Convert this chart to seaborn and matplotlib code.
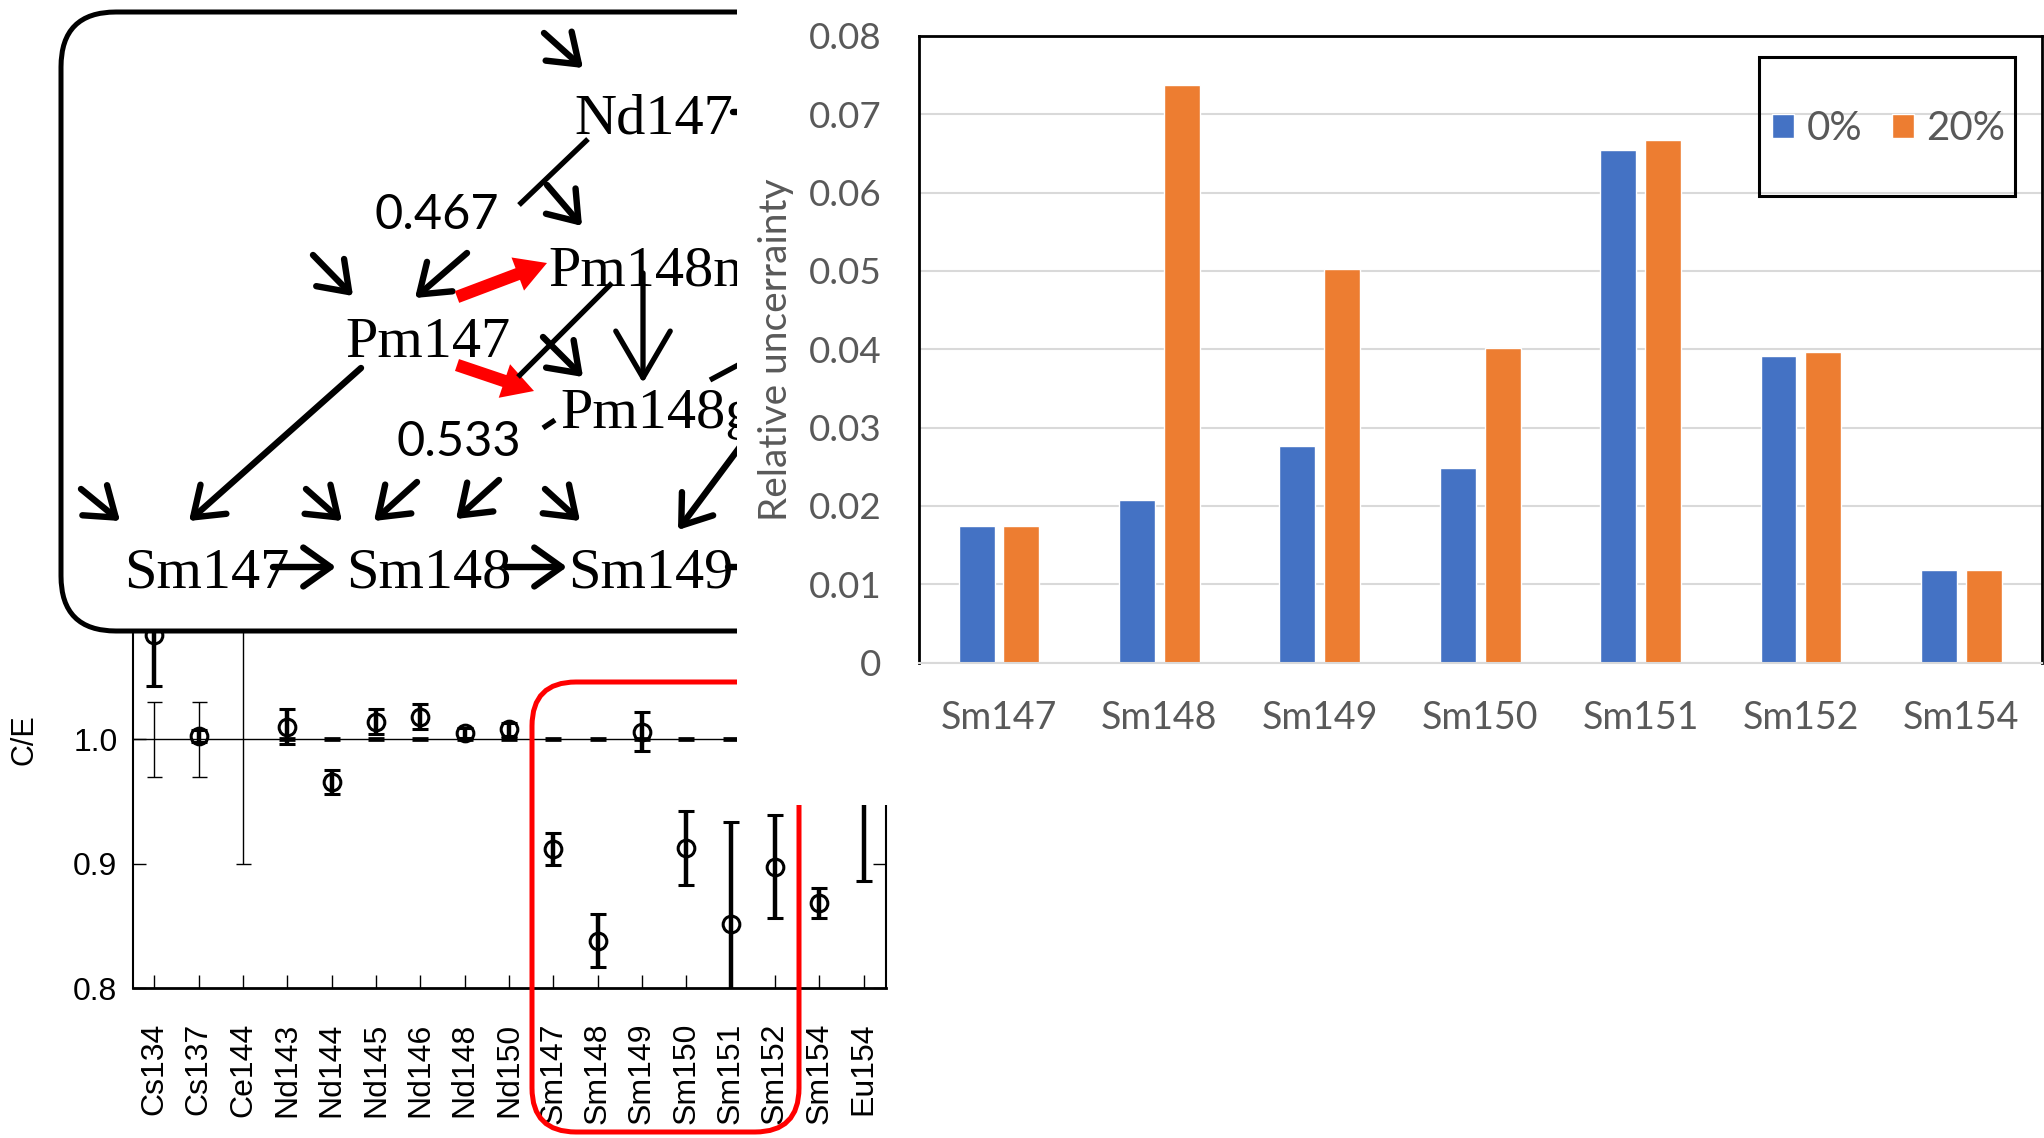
import numpy as np
import pandas as pd
import matplotlib
matplotlib.use("Agg")
import matplotlib.pyplot as plt
import seaborn as sns
from matplotlib.patches import FancyBboxPatch, Rectangle, FancyArrowPatch
from matplotlib.transforms import Affine2D

# --- relative uncertainty bar chart (right) ---
isotopes = ["Sm147", "Sm148", "Sm149", "Sm150", "Sm151", "Sm152", "Sm154"]
unc_0 = [0.0175, 0.0207, 0.0276, 0.0248, 0.0654, 0.0392, 0.0118]
unc_20 = [0.0175, 0.0737, 0.0502, 0.0401, 0.0667, 0.0397, 0.0118]
cases = ["0%", "20%"]
bar_ticks = [0, 0.01, 0.02, 0.03, 0.04, 0.05, 0.06, 0.07, 0.08]
bar_tick_labels = ["0", "0.01", "0.02", "0.03", "0.04", "0.05", "0.06", "0.07", "0.08"]

# --- C/E plot (bottom left) ---
nuclides = ["Cs134", "Cs137", "Ce144", "Nd143", "Nd144", "Nd145", "Nd146", "Nd148", "Nd150",
            "Sm147", "Sm148", "Sm149", "Sm150", "Sm151", "Sm152", "Sm154", "Eu154"]
ce_calc = [1.084, 1.0027, np.nan, 1.0102, 0.966, 1.0142, 1.0183, 1.0049, 1.0081,
           0.9118, 0.838, 1.0062, 0.9124, 0.8512, 0.8976, 0.8686, 0.97]
ce_err = [0.041, 0.005, np.nan, 0.014, 0.0098, 0.010, 0.010, 0.004, 0.005,
          0.0127, 0.0215, 0.0156, 0.0298, 0.082, 0.0415, 0.012, 0.084]
exp_val = [1.0] * 17
exp_err = [0.03, 0.03, 0.10, 0, 0, 0, 0, 0, 0, 0, 0, 0, 0, 0, 0, 0, 0]
ce_ticks = [0.8, 0.9, 1.0]
ce_tick_labels = ["0.8", "0.9", "1.0"]

# --- decay chain sketch (top left) ---
chain_labels = ["Nd147", "Pm148m", "Pm147", "Pm148g", "Sm147", "Sm148", "Sm149"]
chain_pos = [(574, 133), (548, 286), (345, 357), (560, 428), (124, 588), (346, 588), (568, 588)]
branch_labels = ["0.467", "0.533"]
branch_pos = [(374, 229), (397, 456)]

BLUE = "#4472C4"
ORANGE = "#ED7D31"
GREY = "#595959"
W, H = 2044, 1138

sns.set_style("white")

fig = plt.figure(figsize=(W / 100, H / 100), dpi=100)
px = Affine2D().scale(1 / W, -1 / H).translate(0, 1) + fig.transFigure


def frac(x0, y0, x1, y1):
    # pixel box (top-left origin) -> add_axes rect
    return [x0 / W, 1 - y1 / H, (x1 - x0) / W, (y1 - y0) / H]


# ---------------- C/E plot ----------------
ax_e = fig.add_axes(frac(132.7, 553, 885.7, 988), zorder=0)
x = np.arange(len(nuclides))
ev = np.array(exp_val)
ee = np.array(exp_err)
thin = ee > 0
ax_e.axhline(1.0, color="black", lw=1.0, zorder=1)
ax_e.errorbar(x[thin], ev[thin], yerr=ee[thin], fmt="none", ecolor="black",
              elinewidth=1.0, capsize=5.4, capthick=1.0, zorder=2)
ax_e.plot(x[~thin], ev[~thin], ls="none", marker="_", ms=11, mew=3.4,
          color="black", zorder=2)
ax_e.errorbar(x, ce_calc, yerr=ce_err, fmt="o", mfc="none", mec="black", ms=12,
              mew=2.2, ecolor="black", elinewidth=3.2, capsize=5.6, capthick=3.6, zorder=3)
ax_e.set_xlim(-0.49, 16.5)
ax_e.set_ylim(0.8, 1.15)
ax_e.set_xticks(x)
ax_e.set_xticklabels(nuclides, rotation=90, family="Liberation Sans", fontsize=23)
ax_e.set_yticks(ce_ticks)
ax_e.set_yticklabels(ce_tick_labels, family="Liberation Sans", fontsize=23)
ax_e.tick_params(axis="x", direction="in", length=9.4, width=1, pad=25, bottom=True,
                 colors="black")
ax_e.tick_params(axis="y", direction="in", length=9.4, width=1, pad=11, left=True,
                 right=True, colors="black")
for side, lw in [("bottom", 2.0), ("left", 1.5), ("right", 1.5), ("top", 1.5)]:
    ax_e.spines[side].set_color("black")
    ax_e.spines[side].set_linewidth(lw)
ax_e.set_ylabel("C/E", family="Liberation Sans", fontsize=22, color="black")
ax_e.yaxis.set_label_coords(-0.124, 0.57)

# red highlight box round the Sm group
fig.add_artist(FancyBboxPatch((532, 682), 267, 450, boxstyle="round,pad=0,rounding_size=44",
                              fill=False, ec="red", lw=3.6, transform=px, zorder=0.5))

# ---------------- decay chain sketch ----------------
fig.add_artist(FancyBboxPatch((61, 12), 800, 619, boxstyle="round,pad=0,rounding_size=55",
                              fc="white", ec="black", lw=3.6, transform=px, zorder=1))
ax_d = fig.add_axes(frac(61, 12, 736.7, 631), zorder=2)
ax_d.set_xlim(61, 736.7)
ax_d.set_ylim(631, 12)
ax_d.axis("off")

for lab, (tx, ty) in zip(chain_labels, chain_pos):
    ax_d.text(tx, ty, lab, family="Liberation Serif", fontsize=42, ha="left",
              va="baseline", color="black", clip_on=True)
for lab, (tx, ty) in zip(branch_labels, branch_pos):
    ax_d.text(tx, ty, lab, family="Lato", fontsize=35, ha="left", va="baseline",
              color="black", clip_on=True)

small_arrows = [
    ((544, 33), (583, 68)), ((547, 185), (582, 226)), ((313, 255), (353, 296)),
    ((467, 253), (415, 298)), ((543, 337), (583, 377)), ((361, 368), (189, 521)),
    ((81, 489), (120, 521)), ((306, 489), (342, 521)), ((417, 482), (374, 521)),
    ((499, 480), (456, 519)), ((545, 489), (580, 521)), ((748, 436), (678, 530)),
    ((273, 567), (336, 567)), ((506, 567), (567, 567)), ((728, 567), (790, 567)),
    ((733, 112), (790, 112)),
]
for p0, p1 in small_arrows:
    ax_d.add_patch(FancyArrowPatch(p0, p1, arrowstyle="->,head_length=0.7,head_width=0.5",
                                   mutation_scale=28, lw=4.6, color="black",
                                   shrinkA=0, shrinkB=0))
ax_d.add_patch(FancyArrowPatch((643, 273), (643, 383),
                               arrowstyle="->,head_length=1.2,head_width=0.7",
                               mutation_scale=28, lw=3.8, color="black", shrinkA=0, shrinkB=0))
for (x0, y0), (x1, y1) in [((588, 139), (519, 205)), ((612, 283), (518, 377)),
                           ((543, 428), (555, 420)), ((710, 380), (740, 364))]:
    ax_d.plot([x0, x1], [y0, y1], color="black", lw=3.8, solid_capstyle="butt")
for p0, p1 in [((457, 297), (547, 263)), ((457, 365), (534, 391))]:
    ax_d.add_patch(FancyArrowPatch(p0, p1,
                                   arrowstyle="simple,head_length=0.75,head_width=0.85,tail_width=0.3",
                                   mutation_scale=30, lw=0, color="red", shrinkA=0, shrinkB=0))

# white backdrop of the pasted bar chart
fig.add_artist(Rectangle((736.7, 0), 1400, 805, fc="white", ec="none", transform=px, zorder=3))

# ---------------- bar chart ----------------
ax_b = fig.add_axes(frac(918.8, 35.8, 2041.5, 662.7), zorder=4)
df = pd.DataFrame({
    "isotope": isotopes * 2,
    "case": [cases[0]] * len(isotopes) + [cases[1]] * len(isotopes),
    "unc": unc_0 + unc_20,
})
sns.barplot(data=df, x="isotope", y="unc", hue="case", hue_order=cases,
            palette=[BLUE, ORANGE], width=0.56, gap=0.2, saturation=1,
            errorbar=None, ax=ax_b)
ax_b.set_xlim(-0.5, 6.5)
ax_b.set_ylim(0, 0.08)
ax_b.set_yticks(bar_ticks)
ax_b.set_yticklabels(bar_tick_labels, family="Lato", fontsize=26.5, color=GREY)
ax_b.set_xticks(range(len(isotopes)))
ax_b.set_xticklabels(isotopes, family="Lato", fontsize=27, color=GREY)
ax_b.tick_params(axis="both", length=0)
ax_b.tick_params(axis="x", pad=27)
ax_b.tick_params(axis="y", pad=27)
ax_b.yaxis.grid(True, color="#d9d9d9", lw=1.5)
ax_b.set_axisbelow(True)
for side in ["left", "top", "right"]:
    ax_b.spines[side].set_color("black")
    ax_b.spines[side].set_linewidth(2)
ax_b.spines["bottom"].set_color("#d9d9d9")
ax_b.spines["bottom"].set_linewidth(1.5)
ax_b.set_xlabel("")
ax_b.set_ylabel("Relative uncerrainty", family="Lato", fontsize=28, color=GREY)
ax_b.yaxis.set_label_coords(-0.111, 0.499)

handles, labels = ax_b.get_legend_handles_labels()
ax_b.legend(handles, labels, loc="center", bbox_to_anchor=(0.864, 0.852), ncol=2,
            frameon=False, prop={"family": "Lato", "size": 29}, labelcolor=GREY,
            handlelength=0.55, handleheight=0.55, handletextpad=0.3, columnspacing=0.75)
ax_b.add_patch(Rectangle((0.748, 0.745), 0.228, 0.221, transform=ax_b.transAxes,
                         fill=False, ec="black", lw=2.2, zorder=5, clip_on=False))

fig.savefig("out.png", dpi=100)
